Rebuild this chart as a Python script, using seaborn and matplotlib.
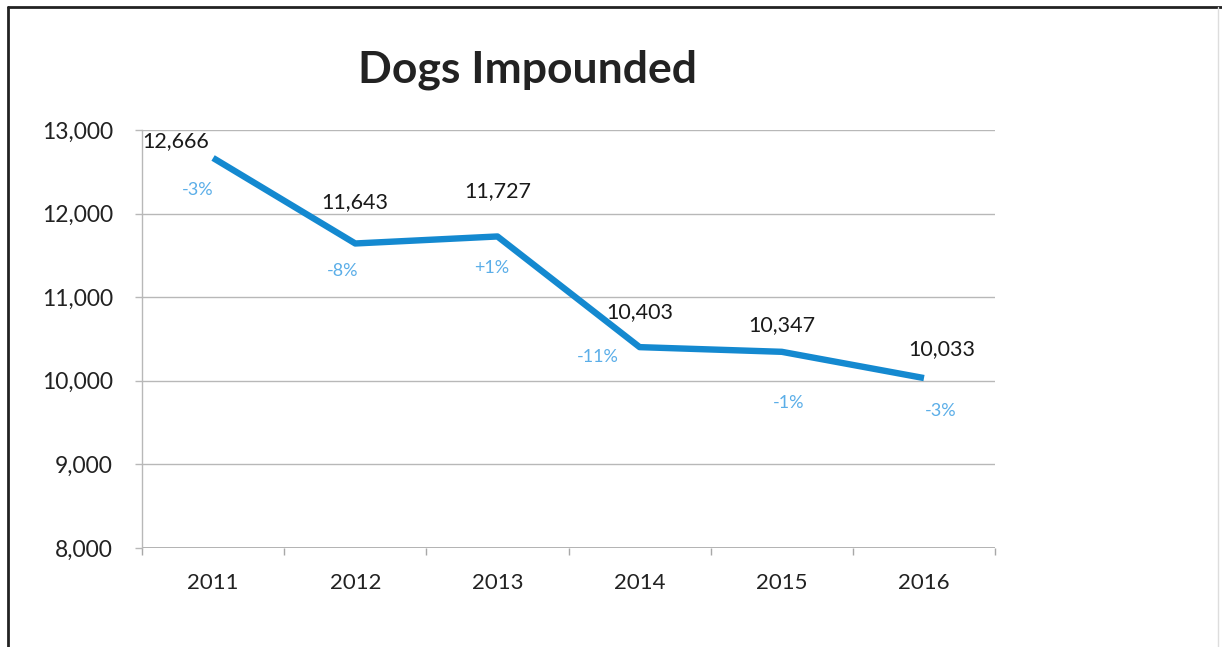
import matplotlib
matplotlib.use("Agg")
import matplotlib.pyplot as plt
from matplotlib.lines import Line2D
import seaborn as sns
import numpy as np
import pandas as pd

years = ["2011", "2012", "2013", "2014", "2015", "2016"]
dogs = [12666, 11643, 11727, 10403, 10347, 10033]
pct_labels = ["-3%", "-8%", "+1%", "-11%", "-1%", "-3%"]
y_ticks = [8000, 9000, 10000, 11000, 12000, 13000]

sns.set_theme(style="white")
plt.rcParams["font.family"] = ["Lato", "DejaVu Sans"]

df = pd.DataFrame({"year": years, "dogs": dogs})

fig = plt.figure(figsize=(12.22, 6.47), dpi=100)
ax = fig.add_axes([0.1162, 0.153, 0.8143 - 0.1162, 0.799 - 0.153])

line_color = "#1489D0"
sns.lineplot(data=df, x="year", y="dogs", ax=ax, color=line_color,
             linewidth=4.6, solid_capstyle="butt", sort=False)

ax.set_xlim(-0.5, len(years) - 0.5)
ax.set_ylim(8000, 13000)
ax.set_yticks(y_ticks)
ax.set_yticklabels([f"{v:,}" for v in y_ticks])
ax.set_xticks(range(len(years)))
ax.set_xticklabels(years)
ax.set_xlabel("")
ax.set_ylabel("")

grid_c = "#B8B8B8"
ax.yaxis.grid(True, color=grid_c, linewidth=1.0)
ax.xaxis.grid(False)
for s in ["top", "right", "bottom"]:
    ax.spines[s].set_visible(False)
ax.spines["left"].set_color(grid_c)
ax.spines["left"].set_linewidth(1.0)
ax.axhline(8000, color="#A8A8A8", linewidth=1.2)

ax.set_xticks(np.arange(-0.5, len(years), 1.0), minor=True)
ax.tick_params(axis="x", which="major", length=0, pad=18, labelsize=16, labelcolor="#222222")
ax.tick_params(axis="x", which="minor", bottom=True, length=5, width=1, color="#A8A8A8", direction="out")
ax.tick_params(axis="y", which="major", left=True, length=5, width=1, color=grid_c,
               pad=16, labelsize=16.5, labelcolor="#222222")

# value labels (offsets in points)
val_offsets = [(-27, 12), (0, 30), (0, 33), (0, 25), (0, 19), (13, 21)]
for i, (v, off) in enumerate(zip(dogs, val_offsets)):
    ax.annotate(f"{v:,}", (i, v), xytext=off, textcoords="offset points",
                ha="center", va="center", fontsize=15.5, color="#1a1a1a")

pct_offsets = [(-11, -23), (-9, -20), (-4, -23), (-30, -7), (5, -37), (12, -24)]
for i, (p, off) in enumerate(zip(pct_labels, pct_offsets)):
    ax.annotate(p, (i, dogs[i]), xytext=off, textcoords="offset points",
                ha="center", va="center", fontsize=13, color="#5BAEE8")

fig.text(528 / 1222, 1 - 70 / 647, "Dogs Impounded", ha="center", va="center",
         fontsize=32, fontweight="bold", color="#222222")

# outer chart frame (left and top edges)
fig.add_artist(Line2D([8 / 1222, 8 / 1222], [0, 1 - 7 / 647], transform=fig.transFigure,
                      color="#222222", linewidth=2))
fig.add_artist(Line2D([8 / 1222, 1.0], [1 - 7 / 647, 1 - 7 / 647], transform=fig.transFigure,
                      color="#222222", linewidth=2))
fig.add_artist(Line2D([1218 / 1222, 1218 / 1222], [0, 1 - 7 / 647], transform=fig.transFigure,
                      color="#DDDDDD", linewidth=1))

fig.savefig("out.png", dpi=100)
